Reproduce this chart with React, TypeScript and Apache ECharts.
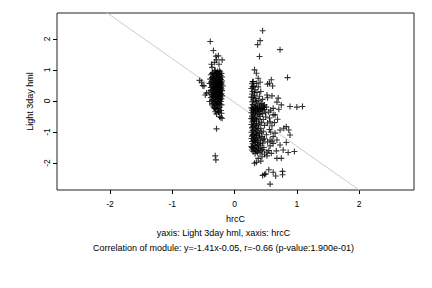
import React, { useEffect, useRef } from "react";
import * as echarts from "echarts";

const xTicks = [-2, -1, 0, 1, 2];
const yTicks = [-2, -1, 0, 1, 2];
const xRange = [-2.85, 2.88];
const yRange = [-2.87, 2.83];

const slope = -1.41;
const intercept = -0.05;

const clusterLeft: number[][] = [
  [-0.39, 1.91], [-0.34, 1.62], [-0.30, 1.44], [-0.26, 1.45], [-0.20, 1.32], [-0.29, 1.32],
  [-0.32, 1.24], [-0.37, 1.18], [-0.25, 1.18], [-0.36, 1.08], [-0.56, 0.66], [-0.53, 0.60],
  [-0.49, 0.48], [-0.51, 0.49], [-0.45, 0.25], [-0.47, 0.19], [-0.40, -0.02], [-0.36, -0.13],
  [-0.32, -0.24], [-0.26, -0.34], [-0.24, -0.51], [-0.20, -0.56], [-0.22, -0.54], [-0.29, -0.90],
  [-0.31, -1.77], [-0.30, -1.90],
  [-0.31, 0.98], [-0.27, 0.95], [-0.23, 0.93], [-0.35, 0.91], [-0.29, 0.89], [-0.21, 0.88],
  [-0.33, 0.86], [-0.25, 0.85], [-0.38, 0.84], [-0.30, 0.82], [-0.22, 0.81], [-0.27, 0.79],
  [-0.34, 0.78], [-0.20, 0.77], [-0.36, 0.75], [-0.24, 0.74], [-0.31, 0.73], [-0.28, 0.71],
  [-0.39, 0.70], [-0.22, 0.69], [-0.33, 0.68], [-0.26, 0.66], [-0.30, 0.65], [-0.20, 0.64],
  [-0.37, 0.63], [-0.24, 0.62], [-0.29, 0.60], [-0.34, 0.59], [-0.21, 0.58], [-0.27, 0.57],
  [-0.40, 0.56], [-0.32, 0.55], [-0.23, 0.54], [-0.28, 0.52], [-0.36, 0.51], [-0.25, 0.50],
  [-0.31, 0.49], [-0.19, 0.48], [-0.34, 0.47], [-0.27, 0.46], [-0.22, 0.44], [-0.38, 0.43],
  [-0.30, 0.42], [-0.25, 0.41], [-0.33, 0.40], [-0.21, 0.39], [-0.28, 0.37], [-0.36, 0.36],
  [-0.24, 0.35], [-0.31, 0.34], [-0.20, 0.33], [-0.35, 0.31], [-0.27, 0.30], [-0.23, 0.29],
  [-0.41, 0.28], [-0.30, 0.27], [-0.25, 0.25], [-0.33, 0.24], [-0.21, 0.23], [-0.28, 0.22],
  [-0.37, 0.21], [-0.24, 0.19], [-0.32, 0.18], [-0.26, 0.17], [-0.20, 0.16], [-0.35, 0.14],
  [-0.29, 0.13], [-0.23, 0.12], [-0.38, 0.11], [-0.31, 0.09], [-0.26, 0.08], [-0.21, 0.07],
  [-0.34, 0.05], [-0.28, 0.04], [-0.24, 0.02], [-0.36, 0.01], [-0.30, -0.01], [-0.22, -0.02],
  [-0.33, -0.04], [-0.27, -0.06], [-0.25, -0.09], [-0.31, -0.11], [-0.21, -0.13], [-0.29, -0.16],
  [-0.34, -0.19], [-0.24, -0.21], [-0.27, -0.25], [-0.30, -0.29], [-0.22, -0.31], [-0.26, -0.37],
  [-0.29, -0.42],
  [-0.32, 0.96], [-0.24, 0.97], [-0.28, 0.92], [-0.36, 0.88], [-0.26, 0.87], [-0.32, 0.80],
  [-0.25, 0.78], [-0.29, 0.76], [-0.35, 0.72], [-0.23, 0.71], [-0.27, 0.68], [-0.32, 0.64],
  [-0.26, 0.61], [-0.38, 0.60], [-0.22, 0.60], [-0.30, 0.57], [-0.25, 0.55], [-0.34, 0.53],
  [-0.21, 0.52], [-0.29, 0.48], [-0.36, 0.45], [-0.24, 0.44], [-0.32, 0.38], [-0.26, 0.38],
  [-0.22, 0.36], [-0.29, 0.32], [-0.38, 0.33], [-0.24, 0.27], [-0.34, 0.26], [-0.27, 0.20],
  [-0.22, 0.20], [-0.30, 0.15], [-0.36, 0.16], [-0.25, 0.14], [-0.33, 0.10], [-0.28, 0.07],
  [-0.23, 0.05], [-0.32, 0.02], [-0.26, -0.03], [-0.35, -0.08], [-0.23, -0.10], [-0.28, -0.13],
  [-0.32, -0.22], [-0.25, -0.27], [-0.21, -0.40], [-0.31, -0.35],
];

const clusterRight: number[][] = [
  [0.45, 2.26], [0.41, 1.94], [0.37, 1.81], [0.73, 1.65], [0.40, 1.43], [0.32, 1.00],
  [0.35, 0.89], [0.38, 0.73], [0.85, 0.75], [0.59, 0.68], [0.56, 0.57], [0.53, 0.54],
  [0.61, 0.48], [0.30, 0.62], [0.29, 0.46], [0.52, 0.19], [0.60, 0.16], [0.70, 0.09],
  [0.68, -0.04], [0.75, -0.13], [0.89, -0.18], [1.00, -0.20], [1.09, -0.18], [0.62, -0.24],
  [0.71, -0.27], [0.65, -0.45], [0.69, -0.59], [0.57, -0.67], [0.83, -0.83], [0.79, -0.88],
  [0.87, -0.94], [0.73, -0.94], [0.65, -1.04], [0.89, -1.10], [0.57, -1.26], [0.68, -1.26],
  [0.62, -1.37], [0.83, -1.34], [0.73, -1.42], [0.78, -1.58], [0.86, -1.66], [0.96, -1.63],
  [0.67, -1.61], [0.59, -1.69], [0.52, -1.77], [0.38, -1.85], [0.42, -1.94], [0.32, -2.01],
  [0.35, -1.98], [0.68, -1.85], [0.75, -1.85],
  [0.45, -2.40], [0.48, -2.37], [0.50, -2.35], [0.55, -2.22], [0.62, -2.30], [0.66, -2.42],
  [0.77, -2.27], [0.77, -2.38], [0.57, -2.68],
  [0.28, 0.55], [0.31, 0.48], [0.27, 0.40], [0.33, 0.36], [0.29, 0.30], [0.36, 0.27],
  [0.28, 0.22], [0.32, 0.18], [0.40, 0.15], [0.27, 0.12], [0.34, 0.08], [0.30, 0.03],
  [0.38, 0.01], [0.28, -0.03], [0.33, -0.07], [0.43, -0.08], [0.29, -0.12], [0.36, -0.14],
  [0.46, -0.16], [0.31, -0.18], [0.40, -0.19], [0.51, -0.20], [0.27, -0.22], [0.34, -0.23],
  [0.44, -0.24], [0.30, -0.26], [0.38, -0.27], [0.48, -0.28], [0.28, -0.30], [0.35, -0.31],
  [0.42, -0.33], [0.31, -0.35], [0.55, -0.36], [0.27, -0.38], [0.37, -0.39], [0.45, -0.41],
  [0.30, -0.43], [0.34, -0.46], [0.28, -0.49], [0.41, -0.50], [0.50, -0.52], [0.32, -0.54],
  [0.27, -0.57], [0.38, -0.58], [0.46, -0.60], [0.30, -0.62], [0.35, -0.65], [0.28, -0.68],
  [0.43, -0.69], [0.53, -0.71], [0.32, -0.73], [0.27, -0.76], [0.38, -0.77], [0.48, -0.79],
  [0.30, -0.81], [0.35, -0.84], [0.28, -0.87], [0.42, -0.88], [0.33, -0.91], [0.56, -0.92],
  [0.29, -0.95], [0.37, -0.96], [0.46, -0.98], [0.27, -1.01], [0.34, -1.03], [0.40, -1.05],
  [0.30, -1.08], [0.51, -1.09], [0.36, -1.11], [0.28, -1.14], [0.44, -1.15], [0.32, -1.17],
  [0.39, -1.19], [0.27, -1.21], [0.48, -1.22], [0.34, -1.24], [0.30, -1.26], [0.42, -1.27],
  [0.37, -1.29], [0.28, -1.31], [0.53, -1.32], [0.33, -1.34], [0.45, -1.36], [0.29, -1.38],
  [0.38, -1.40], [0.31, -1.43], [0.41, -1.45], [0.27, -1.47], [0.35, -1.49], [0.47, -1.50],
  [0.30, -1.53], [0.39, -1.55], [0.28, -1.58], [0.34, -1.60], [0.43, -1.61], [0.30, -1.63],
  [0.37, -1.66], [0.33, -1.70],
  [0.29, 0.62], [0.30, 0.45], [0.32, 0.26], [0.30, 0.10], [0.35, -0.02], [0.41, -0.11],
  [0.48, -0.13], [0.33, -0.20], [0.37, -0.22], [0.47, -0.21], [0.29, -0.24], [0.41, -0.25],
  [0.33, -0.28], [0.44, -0.29], [0.38, -0.34], [0.30, -0.36], [0.50, -0.38], [0.33, -0.40],
  [0.40, -0.44], [0.29, -0.55], [0.35, -0.59], [0.31, -0.66], [0.40, -0.72], [0.34, -0.79],
  [0.29, -0.84], [0.38, -0.90], [0.31, -0.98], [0.43, -1.01], [0.35, -1.07], [0.29, -1.11],
  [0.40, -1.13], [0.33, -1.20], [0.46, -1.25], [0.31, -1.28], [0.36, -1.33], [0.41, -1.38],
  [0.33, -1.44], [0.28, -1.50], [0.38, -1.52], [0.32, -1.56], [0.45, -1.57], [0.36, -1.62],
  [0.41, -1.68],
  [0.58, -0.30], [0.62, -0.45], [0.56, -0.55], [0.60, -0.80], [0.64, -0.70], [0.58, -1.00],
  [0.62, -1.15], [0.57, -1.45], [0.55, -1.60], [0.48, -1.72], [0.44, -1.80], [0.52, -1.65],
  [0.60, -1.30], [0.42, 0.30], [0.38, 0.45], [0.45, 0.05], [0.53, 0.10], [0.35, 0.56],
  [0.41, 0.60],
];

const subtitle1 = "yaxis: Light 3day hml, xaxis: hrcC";
const subtitle2 = "Correlation of module: y=-1.41x-0.05, r=-0.66 (p-value:1.900e-01)";

const FONT = "'Liberation Sans', Arial, Helvetica, sans-serif";

export default function App() {
  const ref = useRef<HTMLDivElement>(null);
  useEffect(() => {
    if (!ref.current) return;
    const chart = echarts.init(ref.current, null, { renderer: "svg" });
    const lineX = [xRange[0], xRange[1]];
    const lineData = lineX.map((x) => [x, slope * x + intercept]);
    const plus = "path://M4,0 L4,8 M0,4 L8,4";
    const markerStyle = { color: "#000", borderColor: "#000", borderWidth: 1.1 };
    chart.setOption({
      animation: false,
      backgroundColor: "#fff",
      textStyle: { fontFamily: FONT },
      grid: {
        left: 57,
        right: 18,
        top: 13,
        bottom: 98,
        show: true,
        borderColor: "#222",
        borderWidth: 1,
        backgroundColor: "transparent",
      },
      xAxis: {
        type: "value",
        min: xRange[0],
        max: xRange[1],
        name: "hrcC",
        nameLocation: "middle",
        nameGap: 24,
        nameTextStyle: { fontSize: 9, color: "#000", fontFamily: FONT },
        axisLine: { show: false, onZero: false },
        axisTick: { show: true, inside: false, customValues: xTicks, length: 4, lineStyle: { color: "#000" } },
        axisLabel: { customValues: xTicks, fontSize: 8.5, color: "#000", margin: 9, fontFamily: FONT },
        splitLine: { show: false },
      },
      yAxis: {
        type: "value",
        min: yRange[0],
        max: yRange[1],
        name: "Light 3day hml",
        nameLocation: "middle",
        nameGap: 21,
        nameRotate: 90,
        nameTextStyle: { fontSize: 9, color: "#000", fontFamily: FONT },
        axisLine: { show: false, onZero: false },
        axisTick: { show: true, inside: false, customValues: yTicks, length: 4, lineStyle: { color: "#000" } },
        axisLabel: { customValues: yTicks, rotate: 90, fontSize: 8.5, color: "#000", margin: 6, fontFamily: FONT },
        splitLine: { show: false },
      },
      series: [
        {
          type: "line",
          data: lineData,
          symbol: "none",
          clip: true,
          lineStyle: { color: "#cccccc", width: 1 },
          z: 1,
        },
        {
          type: "scatter",
          data: clusterLeft,
          symbol: plus,
          symbolSize: 6,
          itemStyle: markerStyle,
          z: 2,
        },
        {
          type: "scatter",
          data: clusterRight,
          symbol: plus,
          symbolSize: 6,
          itemStyle: markerStyle,
          z: 2,
        },
      ],
      graphic: [
        {
          type: "text",
          x: 223.5,
          y: 233,
          style: { text: subtitle1, fontSize: 9, fill: "#000", align: "center", verticalAlign: "middle", fontFamily: FONT },
        },
        {
          type: "text",
          x: 223.5,
          y: 248,
          style: { text: subtitle2, fontSize: 9, fill: "#000", align: "center", verticalAlign: "middle", fontFamily: FONT },
        },
      ],
    });
    return () => chart.dispose();
  }, []);
  return (
    <div
      ref={ref}
      style={{ position: "fixed", left: 0, top: 0, width: 432, height: 288, background: "#fff" }}
    />
  );
}
